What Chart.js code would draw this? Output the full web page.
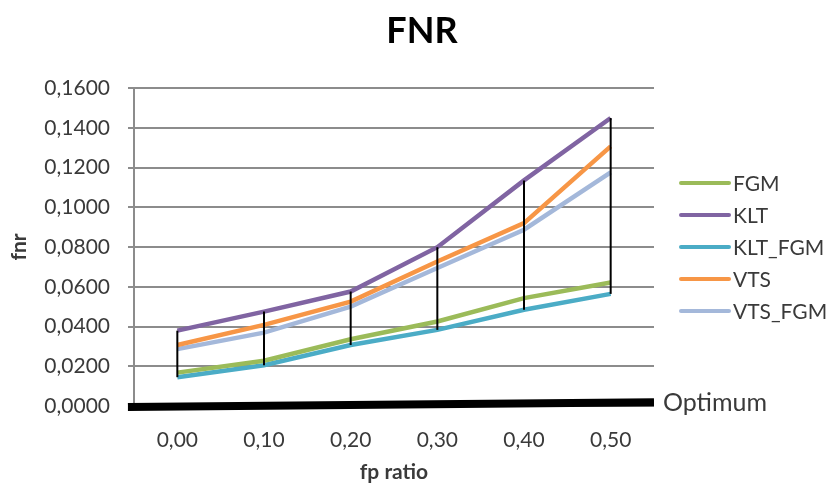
<!DOCTYPE html>
<html>
<head>
<meta charset="utf-8">
<script src="https://cdn.jsdelivr.net/npm/chart.js@4/dist/chart.umd.min.js"></script>
<style>
  html, body { margin: 0; padding: 0; background: #ffffff; }
  #wrap { width: 834px; height: 489px; }
</style>
</head>
<body>
<div id="wrap"><canvas id="c" width="834" height="489"></canvas></div>
<script>
// fp ratio categories
const categories = ['0,00', '0,10', '0,20', '0,30', '0,40', '0,50'];

// false-negative rate per method
const fgm    = [0.0168, 0.0228, 0.0336, 0.0425, 0.0543, 0.0621];
const klt    = [0.0379, 0.0475, 0.0576, 0.0799, 0.1135, 0.1449];
const kltFgm = [0.0145, 0.0205, 0.0307, 0.0383, 0.0484, 0.0564];
const vts    = [0.0307, 0.0408, 0.0525, 0.0727, 0.0920, 0.1306];
const vtsFgm = [0.0286, 0.0369, 0.0500, 0.0694, 0.0887, 0.1175];

// reference "Optimum" line along the bottom of the plot
const optimumX = [-0.057, 0.55];
const optimumY = [-0.0005, 0.0019];

const seriesNames = ['FGM', 'KLT', 'KLT_FGM', 'VTS', 'VTS_FGM'];
const seriesData = [fgm, klt, kltFgm, vts, vtsFgm];
const seriesColors = ['#9BBB59', '#8064A2', '#4BACC6', '#F79646', '#A4B8DA'];

const FONT = 'Lato, "Open Sans", sans-serif';
const TEXT = '#3a3a3a';

const datasets = seriesNames.map((name, i) => ({
  label: name,
  data: seriesData[i],
  borderColor: seriesColors[i],
  backgroundColor: seriesColors[i],
  borderWidth: 4.5,
  pointRadius: 0,
  tension: 0,
  xAxisID: 'x'
}));

datasets.push({
  label: 'Optimum',
  data: optimumX.map((x, i) => ({ x: x, y: optimumY[i] })),
  borderColor: '#000000',
  backgroundColor: '#000000',
  borderWidth: 8,
  pointRadius: 0,
  tension: 0,
  clip: false,
  xAxisID: 'xo'
});

// vertical high-low lines between the highest and lowest series at each category
const highLowLines = {
  id: 'highLowLines',
  afterDatasetsDraw(chart) {
    const ctx = chart.ctx;
    const xs = chart.scales.x, ys = chart.scales.y;
    ctx.save();
    ctx.strokeStyle = '#000000';
    ctx.lineWidth = 2;
    categories.forEach((c, i) => {
      const vals = seriesData.map(s => s[i]);
      const hi = Math.max(...vals), lo = Math.min(...vals);
      const px = xs.getPixelForValue(i);
      ctx.beginPath();
      ctx.moveTo(px, ys.getPixelForValue(hi));
      ctx.lineTo(px, ys.getPixelForValue(lo));
      ctx.stroke();
    });
    ctx.restore();
  }
};

// chart title, legend at the right and the "Optimum" label
const decorations = {
  id: 'decorations',
  afterDraw(chart) {
    const ctx = chart.ctx;
    const area = chart.chartArea;
    ctx.save();

    ctx.font = 'bold 36px ' + FONT;
    ctx.fillStyle = '#000000';
    ctx.textAlign = 'center';
    ctx.textBaseline = 'middle';
    ctx.fillText('FNR', 422, 31);

    const mid = (area.top + area.bottom) / 2;
    const step = 32;
    ctx.font = '21px ' + FONT;
    ctx.textAlign = 'left';
    ctx.lineCap = 'round';
    seriesNames.forEach((name, i) => {
      const y = mid + (i - 2) * step;
      ctx.strokeStyle = seriesColors[i];
      ctx.lineWidth = 4;
      ctx.beginPath();
      ctx.moveTo(681, y);
      ctx.lineTo(729, y);
      ctx.stroke();
      ctx.fillStyle = TEXT;
      ctx.fillText(name, 733, y + 1);
    });

    const ys = chart.scales.y;
    ctx.font = '25px ' + FONT;
    ctx.fillStyle = TEXT;
    ctx.fillText('Optimum', 663, ys.getPixelForValue(optimumY[1]) + 1);
    ctx.restore();
  }
};

new Chart(document.getElementById('c'), {
  type: 'line',
  data: { labels: categories, datasets: datasets },
  plugins: [highLowLines, decorations],
  options: {
    responsive: false,
    animation: false,
    events: [],
    layout: { padding: { left: 0, right: 180, top: 88, bottom: 0 } },
    plugins: {
      legend: { display: false },
      tooltip: { enabled: false },
      title: { display: false }
    },
    scales: {
      x: {
        type: 'category',
        offset: true,
        grid: { display: false },
        border: { display: false },
        ticks: { color: TEXT, font: { family: FONT, size: 21 }, padding: 14 },
        title: {
          display: true,
          text: 'fp ratio',
          color: TEXT,
          font: { family: FONT, size: 21, weight: 'bold' },
          padding: { top: 4, bottom: 4 }
        },
        afterFit(scale) { scale.height = 83; }
      },
      xo: {
        type: 'linear',
        display: false,
        min: -0.05,
        max: 0.55
      },
      y: {
        min: 0,
        max: 0.16,
        grid: { color: '#8c8c8c', lineWidth: 2, tickLength: 6 },
        border: { color: '#8c8c8c', width: 2 },
        ticks: {
          stepSize: 0.02,
          color: TEXT,
          font: { family: FONT, size: 21 },
          padding: 18,
          callback: v => Number(v).toFixed(4).replace('.', ',')
        },
        title: {
          display: true,
          text: 'fnr',
          color: TEXT,
          font: { family: FONT, size: 21, weight: 'bold' },
          padding: { top: 7, bottom: 7 }
        },
        afterFit(scale) { scale.width = 134; }
      }
    }
  }
});
</script>
</body>
</html>
